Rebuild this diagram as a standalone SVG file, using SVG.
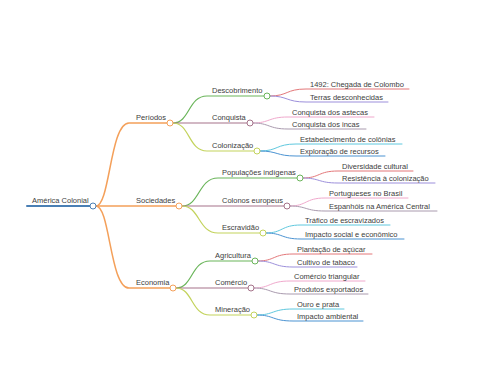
<svg xmlns="http://www.w3.org/2000/svg" width="480" height="384" viewBox="0 0 480 384">
<style>
text{font-family:"Liberation Sans",Arial,sans-serif;font-size:7.5px;fill:#3d3d3d}
path{fill:none;stroke-linecap:round}
circle{fill:#fff;stroke-width:1}
.l0{stroke:#4a7fb4;stroke-width:2}
.l1{stroke:#f4a05a;stroke-width:1.5}
.g{stroke:#6ab55a;stroke-width:1.2}
.m{stroke:#a5738a;stroke-width:1.2}
.y{stroke:#c3d35c;stroke-width:1.2}
.r{stroke:#e37779;stroke-width:1}
.p{stroke:#9c8fdb;stroke-width:1}
.k{stroke:#f0a8cc;stroke-width:1}
.s{stroke:#a99aae;stroke-width:1}
.c{stroke:#5fc8de;stroke-width:1}
.b{stroke:#4b93d2;stroke-width:1}
</style>
<rect width="480" height="384" fill="#fff"/>
<g id="connectors">
<path class="l0" d="M27,206 L90,206"/>
<path class="l1" d="M96,206 C110,206 110,123 129,123 L167,123"/>
<path class="l1" d="M96,206 L176,206"/>
<path class="l1" d="M96,206 C110,206 110,288 129,288 L170,288"/>
<path class="g" d="M173,123 C190,123 188,96 207,96 L264,96"/>
<path class="m" d="M173,123 L247,123"/>
<path class="y" d="M173,123 C190,123 188,151 207,151 L254,151"/>
<path class="g" d="M182,206 C200,206 198,178 218,178 L297,178"/>
<path class="m" d="M182,206 L284,206"/>
<path class="y" d="M182,206 C200,206 198,233 218,233 L260,233"/>
<path class="g" d="M176,288 C193,288 191,261 210,261 L252,261"/>
<path class="m" d="M176,288 L248,288"/>
<path class="y" d="M176,288 C193,288 191,315 210,315 L251,315"/>
<path class="r" d="M270,96 C288,96 286,89 306,89 L409,89"/>
<path class="p" d="M270,96 C288,96 286,102 306,102 L388,102"/>
<path class="k" d="M253,123 C270,123 268,117 288,117 L374,117"/>
<path class="s" d="M253,123 C270,123 268,129 288,129 L366,129"/>
<path class="c" d="M260,151 C278,151 276,144 296,144 L402,144"/>
<path class="b" d="M260,151 C278,151 276,156 296,156 L385,156"/>
<path class="r" d="M303,178 C320,178 318,171 338,171 L413,171"/>
<path class="p" d="M303,178 C320,178 318,183 338,183 L435,183"/>
<path class="k" d="M290,206 C307,206 305,198 325,198 L408,198"/>
<path class="s" d="M290,206 C307,206 305,211 325,211 L437,211"/>
<path class="c" d="M266,233 C283,233 281,225 301,225 L390,225"/>
<path class="b" d="M266,233 C283,233 281,239 301,239 L404,239"/>
<path class="r" d="M258,261 C275,261 273,254 293,254 L372,254"/>
<path class="p" d="M258,261 C275,261 273,267 293,267 L357,267"/>
<path class="k" d="M254,288 C271,288 269,281 290,281 L365,281"/>
<path class="s" d="M254,288 C271,288 269,294 290,294 L368,294"/>
<path class="c" d="M257,315 C274,315 272,309 293,309 L344,309"/>
<path class="b" d="M257,315 C274,315 272,321 293,321 L363,321"/>
</g>
<g id="n-root"><text x="32" y="203">América Colonial</text><circle class="l0" cx="93" cy="206" r="3" style="stroke-width:1"/></g>
<g id="n-periodos"><text x="136" y="120">Períodos</text><circle class="l1" cx="170" cy="123" r="3" style="stroke-width:1"/></g>
<g id="n-sociedades"><text x="136" y="203">Sociedades</text><circle class="l1" cx="179" cy="206" r="3" style="stroke-width:1"/></g>
<g id="n-economia"><text x="136" y="285">Economia</text><circle class="l1" cx="173" cy="288" r="3" style="stroke-width:1"/></g>
<g id="n-descobrimento"><text x="212" y="93">Descobrimento</text><circle class="g" cx="267" cy="96" r="3" style="stroke-width:1"/></g>
<g id="n-conquista"><text x="212" y="120">Conquista</text><circle class="m" cx="250" cy="123" r="3" style="stroke-width:1"/></g>
<g id="n-colonizacao"><text x="212" y="148">Colonização</text><circle class="y" cx="257" cy="151" r="3" style="stroke-width:1"/></g>
<g id="n-populacoes"><text x="222" y="175">Populações indígenas</text><circle class="g" cx="300" cy="178" r="3" style="stroke-width:1"/></g>
<g id="n-colonos"><text x="222" y="203">Colonos europeus</text><circle class="m" cx="287" cy="206" r="3" style="stroke-width:1"/></g>
<g id="n-escravidao"><text x="222" y="230">Escravidão</text><circle class="y" cx="263" cy="233" r="3" style="stroke-width:1"/></g>
<g id="n-agricultura"><text x="215" y="258">Agricultura</text><circle class="g" cx="255" cy="261" r="3" style="stroke-width:1"/></g>
<g id="n-comercio"><text x="215" y="285">Comércio</text><circle class="m" cx="251" cy="288" r="3" style="stroke-width:1"/></g>
<g id="n-mineracao"><text x="215" y="312">Mineração</text><circle class="y" cx="254" cy="315" r="3" style="stroke-width:1"/></g>
<g id="n-l1"><text x="310" y="87">1492: Chegada de Colombo</text></g>
<g id="n-l2"><text x="310" y="100">Terras desconhecidas</text></g>
<g id="n-l3"><text x="292" y="115">Conquista dos astecas</text></g>
<g id="n-l4"><text x="292" y="127">Conquista dos incas</text></g>
<g id="n-l5"><text x="300" y="142">Estabelecimento de colônias</text></g>
<g id="n-l6"><text x="300" y="154">Exploração de recursos</text></g>
<g id="n-l7"><text x="342" y="169">Diversidade cultural</text></g>
<g id="n-l8"><text x="342" y="181">Resistência à colonização</text></g>
<g id="n-l9"><text x="329" y="196">Portugueses no Brasil</text></g>
<g id="n-l10"><text x="329" y="209">Espanhóis na América Central</text></g>
<g id="n-l11"><text x="305" y="223">Tráfico de escravizados</text></g>
<g id="n-l12"><text x="305" y="237">Impacto social e econômico</text></g>
<g id="n-l13"><text x="297" y="252">Plantação de açúcar</text></g>
<g id="n-l14"><text x="297" y="265">Cultivo de tabaco</text></g>
<g id="n-l15"><text x="294" y="279">Comércio triangular</text></g>
<g id="n-l16"><text x="294" y="292">Produtos exportados</text></g>
<g id="n-l17"><text x="297" y="307">Ouro e prata</text></g>
<g id="n-l18"><text x="297" y="319">Impacto ambiental</text></g>
</svg>
